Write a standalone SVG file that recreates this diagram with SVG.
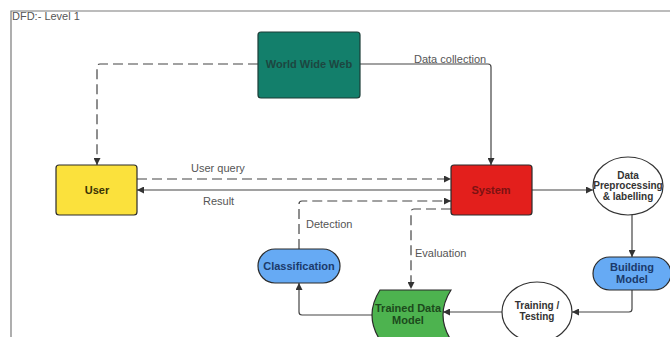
<svg xmlns="http://www.w3.org/2000/svg" width="670" height="337" viewBox="0 0 670 337">
<style>
text{font-family:"Liberation Sans",Arial,sans-serif}
.nl{font-size:11px;font-weight:bold;text-anchor:middle}
.nl10{font-size:10px;font-weight:bold;text-anchor:middle}
.el{font-size:11px;fill:#555}
.c{fill:none;stroke:#444;stroke-width:1.2}
.d{stroke-dasharray:10 5}
.ns{stroke:#2b2b2b;stroke-width:1.2}
</style>
<defs>
<marker id="ah" viewBox="0 0 10 10" refX="10" refY="5" markerWidth="7" markerHeight="7" markerUnits="userSpaceOnUse" orient="auto">
<path d="M0 0 L10 5 L0 10 Z" fill="#333"/>
</marker>
</defs>
<rect width="670" height="337" fill="#fff"/>
<g id="frame">
<path d="M11 337 V11 H670" fill="none" stroke="#7a7a7a" stroke-width="1.2"/>
<text x="12" y="20" font-size="11" fill="#555">DFD:- Level 1</text>
</g>
<g id="connectors">
<path class="c d" d="M258 64 H100 Q97 64 97 67 V165" marker-end="url(#ah)"/>
<path class="c" d="M360 64 H488 Q491 64 491 67 V165" marker-end="url(#ah)"/>
<path class="c d" d="M137 179 H451" marker-end="url(#ah)"/>
<path class="c" d="M451 190 H137" marker-end="url(#ah)"/>
<path class="c d" d="M299 249 V204 Q299 201 302 201 H451" marker-end="url(#ah)"/>
<path class="c d" d="M451 209 H414 Q411 209 411 212 V289" marker-end="url(#ah)"/>
<path class="c" d="M532 190 H593" marker-end="url(#ah)"/>
<path class="c" d="M632 215 V257" marker-end="url(#ah)"/>
<path class="c" d="M632 290 V309 Q632 312 629 312 H572" marker-end="url(#ah)"/>
<path class="c" d="M502 312 H443" marker-end="url(#ah)"/>
<path class="c" d="M372 315 H302 Q299 315 299 312 V283" marker-end="url(#ah)"/>
<text class="el" x="414" y="63">Data collection</text>
<text class="el" x="191" y="172">User query</text>
<text class="el" x="203" y="205">Result</text>
<text class="el" x="306" y="228">Detection</text>
<text class="el" x="415" y="257">Evaluation</text>
</g>
<g id="www">
<rect x="258" y="32" width="102" height="66" rx="3" fill="#137f6b" stroke="#1c3d37" stroke-width="1.2"/>
<text class="nl" x="309" y="68" fill="#1d4640">World Wide Web</text>
</g>
<g id="user">
<rect x="56" y="165" width="81" height="50" rx="3" fill="#fbe13c" class="ns"/>
<text class="nl" x="97" y="194" fill="#3a3305">User</text>
</g>
<g id="system">
<rect x="451" y="165" width="81" height="50" rx="3" fill="#e31f1c" class="ns"/>
<text class="nl" x="491" y="194" fill="#7c1212">System</text>
</g>
<g id="preprocessing">
<ellipse cx="628" cy="186" rx="35" ry="29" fill="#fff" stroke="#333" stroke-width="1.2"/>
<text class="nl10" x="628" y="179" fill="#333">Data</text>
<text class="nl10" x="628" y="189" fill="#333">Preprocessing</text>
<text class="nl10" x="628" y="200" fill="#333">&amp; labelling</text>
</g>
<g id="building">
<rect x="593" y="257" width="78" height="33" rx="16.5" fill="#66aaf4" class="ns"/>
<text class="nl" x="632" y="271" fill="#1b3a6b">Building</text>
<text class="nl" x="632" y="283" fill="#1b3a6b">Model</text>
</g>
<g id="training">
<ellipse cx="537" cy="312" rx="35" ry="30" fill="#fff" stroke="#333" stroke-width="1.2"/>
<text class="nl10" x="537" y="309" fill="#333">Training /</text>
<text class="nl10" x="537" y="320" fill="#333">Testing</text>
</g>
<g id="trained">
<path d="M380 290 H451 Q435 315 451 340 H380 Q364 315 380 290 Z" fill="#4db34f" class="ns"/>
<text class="nl" x="408" y="312" fill="#1c4a1c">Trained Data</text>
<text class="nl" x="408" y="324" fill="#1c4a1c">Model</text>
</g>
<g id="classification">
<rect x="258" y="249" width="82" height="34" rx="17" fill="#66aaf4" class="ns"/>
<text class="nl" x="299" y="270" fill="#1b3a6b">Classification</text>
</g>
</svg>
